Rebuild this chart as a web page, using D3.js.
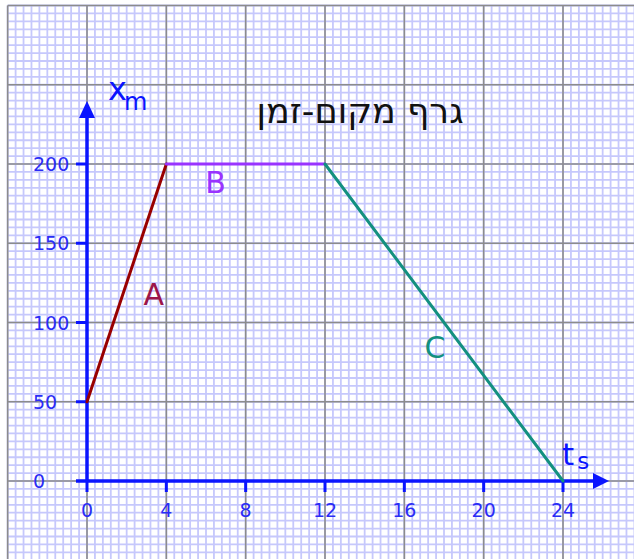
<!DOCTYPE html>
<html>
<head>
<meta charset="utf-8">
<script src="https://cdn.jsdelivr.net/npm/d3@7"></script>
<style>
  html, body { margin: 0; padding: 0; background: #fff; }
  svg { display: block; }
</style>
</head>
<body>
<svg id="chart" width="634" height="559"></svg>
<script>
// Position-time graph: three motion segments
const timeS = [0, 4, 12, 24];
const positionM = [50, 200, 200, 0];
const segmentNames = ["A", "B", "C"];
const segmentColors = ["#990000", "#9933ff", "#139080"];
const segmentTextColors = ["#9c1549", "#9933ff", "#139080"];
const xTicks = [0, 4, 8, 12, 16, 20, 24];
const yTicks = [0, 50, 100, 150, 200];
const title = "גרף מקום-זמן";

const svg = d3.select("#chart");
const W = 634, H = 559;

const x = d3.scaleLinear().domain([0, 24]).range([87, 563]);
const y = d3.scaleLinear().domain([0, 200]).range([481, 164]);

// graph paper: white sheet, fine lavender lines, grey major lines
const gx0 = x(-4), gy0 = y(300);
svg.append("rect").attr("x", gx0).attr("y", gy0)
  .attr("width", W - gx0).attr("height", H - gy0).attr("fill", "#fff");

const minorX = d3.range(-4, 28.01, 0.4);
const minorY = d3.range(-50, 300.01, 5);
const grid = svg.append("g");
grid.selectAll(".mx").data(minorX).join("line")
  .attr("x1", d => x(d)).attr("x2", d => x(d))
  .attr("y1", gy0).attr("y2", H)
  .attr("stroke", "#c6c8fc").attr("stroke-width", 1.8);
grid.selectAll(".my").data(minorY).join("line")
  .attr("y1", d => y(d)).attr("y2", d => y(d))
  .attr("x1", gx0).attr("x2", W)
  .attr("stroke", "#c6c8fc").attr("stroke-width", 1.8);

const majorX = d3.range(-4, 28.01, 4);
const majorY = d3.range(-50, 300.01, 50);
grid.selectAll(".Mx").data(majorX).join("line")
  .attr("x1", d => x(d)).attr("x2", d => x(d))
  .attr("y1", gy0).attr("y2", H)
  .attr("stroke", "#8c8c8c").attr("stroke-width", 1.6);
grid.selectAll(".My").data(majorY).join("line")
  .attr("y1", d => y(d)).attr("y2", d => y(d))
  .attr("x1", gx0).attr("x2", W)
  .attr("stroke", "#8c8c8c").attr("stroke-width", 1.6);

// axes
const axisColor = "#0a14ff";
const labelColor = "#2a2cf6";
const ax = svg.append("g");
ax.append("line").attr("x1", x(0)).attr("x2", x(0))
  .attr("y1", y(0)).attr("y2", 114)
  .attr("stroke", axisColor).attr("stroke-width", 3.5);
ax.append("path").attr("d", `M${x(0)},101 L${x(0) - 8},118 L${x(0) + 8},118 Z`)
  .attr("fill", axisColor);
ax.append("line").attr("x1", 76).attr("x2", 596)
  .attr("y1", y(0)).attr("y2", y(0))
  .attr("stroke", axisColor).attr("stroke-width", 3.5);
ax.append("path").attr("d", `M609,${y(0)} L593,${y(0) - 8} L593,${y(0) + 8} Z`)
  .attr("fill", axisColor);

// tick marks
ax.selectAll(".yt").data(yTicks.filter(d => d > 0)).join("line")
  .attr("x1", 76).attr("x2", x(0))
  .attr("y1", d => y(d)).attr("y2", d => y(d))
  .attr("stroke", axisColor).attr("stroke-width", 3);
ax.selectAll(".xt").data(xTicks).join("line")
  .attr("x1", d => x(d)).attr("x2", d => x(d))
  .attr("y1", y(0)).attr("y2", y(0) + 11)
  .attr("stroke", axisColor).attr("stroke-width", 3);

// tick labels
const tickFont = "DejaVu Sans, Verdana, sans-serif";
ax.selectAll(".yl").data(yTicks).join("text")
  .attr("x", 33).attr("y", d => y(d) + 7)
  .attr("font-family", tickFont).attr("font-size", 19)
  .attr("fill", labelColor)
  .text(d => d);
ax.selectAll(".xl").data(xTicks).join("text")
  .attr("x", d => x(d)).attr("y", 517)
  .attr("text-anchor", "middle")
  .attr("font-family", tickFont).attr("font-size", 19)
  .attr("fill", labelColor)
  .text(d => d);

// axis titles
const xm = ax.append("text").attr("x", 108).attr("y", 100)
  .attr("font-family", tickFont).attr("fill", axisColor);
xm.append("tspan").attr("font-size", 32).text("x");
xm.append("tspan").attr("font-size", 24).attr("dx", -3).attr("dy", 10).text("m");

const ts = ax.append("text").attr("x", 562).attr("y", 465)
  .attr("font-family", tickFont).attr("fill", axisColor);
ts.append("tspan").attr("font-size", 31).text("t");
ts.append("tspan").attr("font-size", 23).attr("dx", 3).attr("dy", 4).text("s");

// chart title
svg.append("text").attr("x", 360).attr("y", 123)
  .attr("text-anchor", "middle").attr("direction", "rtl")
  .attr("font-family", "DejaVu Sans, sans-serif").attr("font-size", 35)
  .attr("fill", "#111").text(title);

// motion segments
const segs = segmentNames.map((name, i) => ({
  name,
  x1: timeS[i], y1: positionM[i], x2: timeS[i + 1], y2: positionM[i + 1],
  color: segmentColors[i], textColor: segmentTextColors[i]
}));
svg.append("g").selectAll("line").data(segs).join("line")
  .attr("x1", d => x(d.x1)).attr("y1", d => y(d.y1))
  .attr("x2", d => x(d.x2)).attr("y2", d => y(d.y2))
  .attr("stroke", d => d.color).attr("stroke-width", 3)
  .attr("stroke-linecap", "round");

// segment names, placed beside the middle of each segment
const labelOffsets = [[27, 22], [-30, 29], [-9, 35]];
svg.append("g").selectAll("text").data(segs).join("text")
  .attr("x", (d, i) => (x(d.x1) + x(d.x2)) / 2 + labelOffsets[i][0])
  .attr("y", (d, i) => (y(d.y1) + y(d.y2)) / 2 + labelOffsets[i][1])
  .attr("text-anchor", "middle")
  .attr("font-family", tickFont).attr("font-size", 30)
  .attr("fill", d => d.textColor)
  .text(d => d.name);
</script>
</body>
</html>
